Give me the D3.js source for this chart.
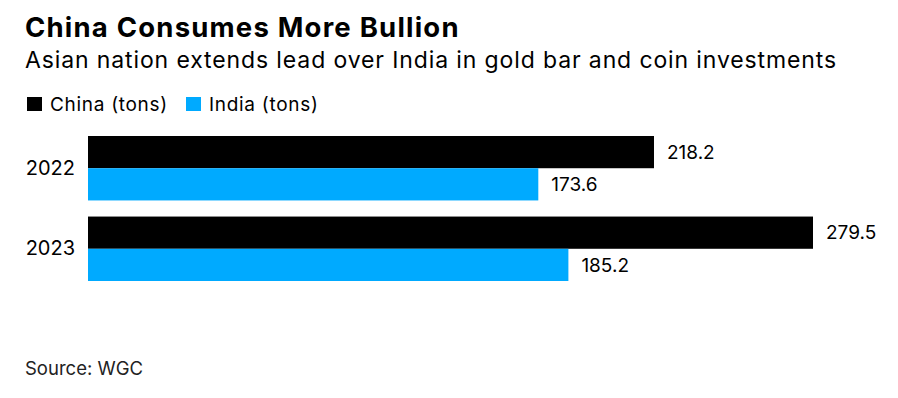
<!DOCTYPE html>
<html><head><meta charset="utf-8">
<script src="https://cdn.jsdelivr.net/npm/d3@7"></script>
<style>body{margin:0;background:#fff}svg{display:block}text{font-family:Inter,"Liberation Sans",Arial,sans-serif}</style>
</head><body>
<script>
const years = ["2022", "2023"];
const seriesNames = ["China (tons)", "India (tons)"];
const chinaValues = [218.2, 279.5];
const indiaValues = [173.6, 185.2];
const colors = ["#000000", "#00aaff"];

const W = 898, H = 398;
const svg = d3.select("body").append("svg").attr("width", W).attr("height", H);

svg.append("text").attr("x", 25).attr("y", 37).attr("font-size", 27.5).attr("font-weight", 700)
  .attr("letter-spacing", 1.2).attr("fill", "#000").text("China Consumes More Bullion");
svg.append("text").attr("x", 25).attr("y", 68).attr("font-size", 23).attr("letter-spacing", 0.88)
  .attr("fill", "#000").text("Asian nation extends lead over India in gold bar and coin investments");

// legend
const legX = [27, 186];
seriesNames.forEach((s, i) => {
  svg.append("rect").attr("x", legX[i]).attr("y", 97).attr("width", 15).attr("height", 14).attr("fill", colors[i]);
  svg.append("text").attr("x", legX[i] + 23).attr("y", 111).attr("font-size", 19).attr("letter-spacing", 0.7)
    .attr("fill", "#000").text(s);
});

const x = d3.scaleLinear().domain([0, 279.5]).range([88, 813]);
const y = d3.scaleBand().domain(years).range([136, 281]).paddingInner(0.2);
const ySub = d3.scaleBand().domain(seriesNames).range([0, y.bandwidth()]);

const data = years.map((yr, i) => ({year: yr, values: [chinaValues[i], indiaValues[i]]}));

const g = svg.selectAll("g.grp").data(data).join("g").attr("class", "grp")
  .attr("transform", d => `translate(0,${y(d.year)})`);

g.selectAll("rect").data(d => d.values.map((v, j) => ({v, s: seriesNames[j], c: colors[j]})))
  .join("rect")
  .attr("x", x(0)).attr("y", d => ySub(d.s))
  .attr("width", d => x(d.v) - x(0)).attr("height", ySub.bandwidth())
  .attr("fill", d => d.c);

g.selectAll("text.val").data(d => d.values.map((v, j) => ({v, s: seriesNames[j]})))
  .join("text").attr("class", "val")
  .attr("x", d => x(d.v) + 13).attr("y", d => ySub(d.s) + ySub.bandwidth() / 2)
  .attr("dy", "0.35em").attr("font-size", 19).attr("fill", "#000")
  .text(d => d.v.toFixed(1));

// y axis labels
const yAxis = d3.axisLeft(y).tickSize(0).tickPadding(13);
const ya = svg.append("g").attr("transform", `translate(${x(0)},0)`).call(yAxis);
ya.select(".domain").remove();
ya.selectAll("text").attr("font-size", 20).attr("fill", "#000").attr("font-family", 'Inter,"Liberation Sans",Arial,sans-serif');

svg.append("text").attr("x", 25).attr("y", 375).attr("font-size", 18.5).attr("fill", "#222").text("Source: WGC");
</script>
</body></html>
